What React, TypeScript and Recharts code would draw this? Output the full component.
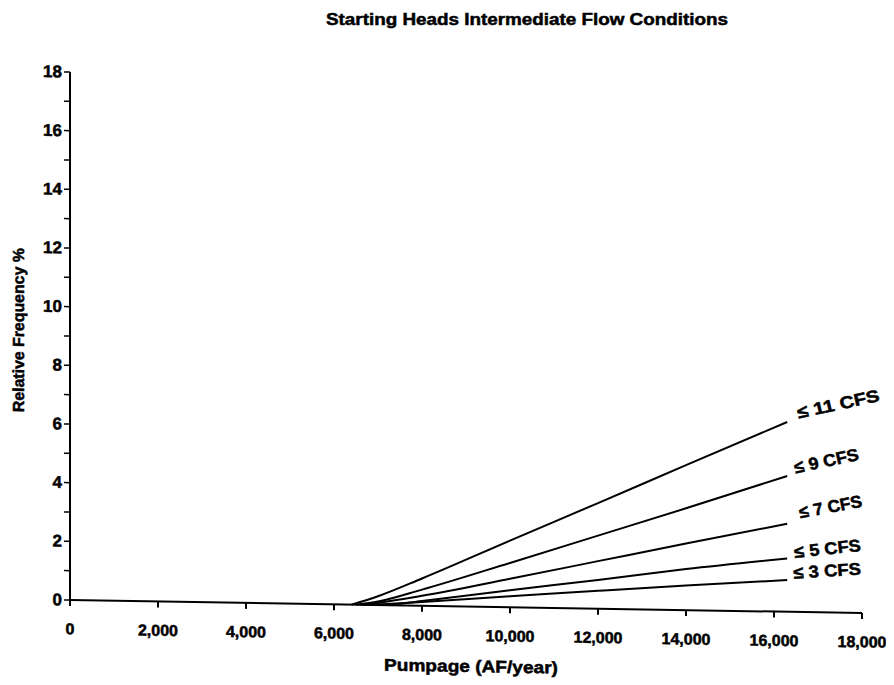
import { LineChart, Line, XAxis, YAxis, Label } from "recharts";

// Relative frequency (%) vs. pumpage (AF/year), one series per flow cap
const cfs11 = [
  { x: 6400, y: 0 },
  { x: 7000, y: 0.3 },
  { x: 8000, y: 0.93 },
  { x: 10000, y: 2.27 },
  { x: 12000, y: 3.6 },
  { x: 14000, y: 4.94 },
  { x: 16300, y: 6.47 },
];
const cfs9 = [
  { x: 6500, y: 0 },
  { x: 7000, y: 0.12 },
  { x: 8000, y: 0.55 },
  { x: 10000, y: 1.51 },
  { x: 12000, y: 2.49 },
  { x: 14000, y: 3.47 },
  { x: 16300, y: 4.63 },
];
const cfs7 = [
  { x: 6600, y: 0 },
  { x: 7000, y: 0.08 },
  { x: 8000, y: 0.34 },
  { x: 10000, y: 0.97 },
  { x: 12000, y: 1.62 },
  { x: 14000, y: 2.27 },
  { x: 16300, y: 3.0 },
];
const cfs5 = [
  { x: 6700, y: 0 },
  { x: 7500, y: 0.06 },
  { x: 8000, y: 0.16 },
  { x: 10000, y: 0.58 },
  { x: 12000, y: 0.98 },
  { x: 14000, y: 1.4 },
  { x: 16300, y: 1.82 },
];
const cfs3 = [
  { x: 6800, y: 0 },
  { x: 8000, y: 0.13 },
  { x: 10000, y: 0.37 },
  { x: 12000, y: 0.61 },
  { x: 14000, y: 0.84 },
  { x: 16300, y: 1.08 },
];

const xTicks = [0, 2000, 4000, 6000, 8000, 10000, 12000, 14000, 16000, 18000];
const yTicks = [0, 1, 2, 3, 4, 5, 6, 7, 8, 9, 10, 11, 12, 13, 14, 15, 16, 17, 18];

// label text, angle, offset from the last point, stretched width
const seriesLabels = [
  { data: cfs11, text: "≤ 11 CFS", angle: -13, dx: 10, dy: -9, len: 84 },
  { data: cfs9, text: "≤ 9 CFS", angle: -13, dx: 7, dy: -8, len: 66 },
  { data: cfs7, text: "≤ 7 CFS", angle: -11.5, dx: 12, dy: -11, len: 64 },
  { data: cfs5, text: "≤ 5 CFS", angle: -7, dx: 7, dy: -6, len: 67 },
  { data: cfs3, text: "≤ 3 CFS", angle: -4.5, dx: 6, dy: -7, len: 68 },
];

const FONT = '"Liberation Sans", Arial, Helvetica, sans-serif';

// heavy print look: bold glyphs with a thin outline
const heavy = {
  fontFamily: FONT,
  fontWeight: 700,
  fill: "#000",
  stroke: "#000",
  strokeWidth: 0.5,
};

const fmt = (v: number) => v.toLocaleString("en-US");

const XTick = ({ x, y, payload }: any) => (
  <text x={x} y={y} dy="0.71em" textAnchor="middle" fontSize={16} {...heavy}>
    {fmt(payload.value)}
  </text>
);

const YTick = ({ x, y, payload }: any) =>
  payload.value % 2 === 0 ? (
    <text
      x={x}
      y={y}
      textAnchor="end"
      dominantBaseline="central"
      fontSize={17}
      {...heavy}
    >
      {payload.value}
    </text>
  ) : (
    <g />
  );

const endLabel =
  (cfg: (typeof seriesLabels)[number]) =>
  ({ x, y, index }: any) => {
    if (index !== cfg.data.length - 1) return <g />;
    const tx = x + cfg.dx;
    const ty = y + cfg.dy;
    return (
      <text
        x={tx}
        y={ty}
        transform={`rotate(${cfg.angle}, ${tx}, ${ty})`}
        dominantBaseline="central"
        textLength={cfg.len}
        lengthAdjust="spacingAndGlyphs"
        fontSize={17}
        {...heavy}
      >
        {cfg.text}
      </text>
    );
  };

export default function App() {
  return (
    <div style={{ position: "relative", width: 886, height: 677 }}>
      <svg
        width={886}
        height={40}
        style={{ position: "absolute", left: 0, top: 0 }}
      >
        <text
          x={519}
          y={11}
          textAnchor="middle"
          dominantBaseline="central"
          textLength={402}
          lengthAdjust="spacingAndGlyphs"
          fontSize={16}
          {...heavy}
        >
          Starting Heads Intermediate Flow Conditions
        </text>
      </svg>
      {/* the whole plot leans a little, as on the printed sheet */}
      <div style={{ transform: "skewY(0.94deg)", transformOrigin: "62px 592px" }}>
        <LineChart
          width={886}
          height={677}
          margin={{ top: 64, right: 32, bottom: 25, left: 22 }}
        >
          <XAxis
            dataKey="x"
            type="number"
            domain={[0, 18000]}
            ticks={xTicks}
            tick={<XTick />}
            tickSize={6}
            tickMargin={17}
            height={60}
            axisLine={{ stroke: "#000", strokeWidth: 2 }}
            tickLine={{ stroke: "#000", strokeWidth: 2 }}
            allowDuplicatedCategory={false}
          >
            <Label
              content={({ viewBox }: any) => (
                <text
                  x={viewBox.x + viewBox.width / 2 + 5}
                  y={viewBox.y + 60}
                  textAnchor="middle"
                  dominantBaseline="central"
                  textLength={174}
                  lengthAdjust="spacingAndGlyphs"
                  fontSize={17}
                  {...heavy}
                >
                  Pumpage (AF/year)
                </text>
              )}
            />
          </XAxis>
          <YAxis
            type="number"
            domain={[0, 18]}
            ticks={yTicks}
            interval={0}
            tick={<YTick />}
            tickSize={6}
            tickMargin={2}
            width={40}
            axisLine={{ stroke: "#000", strokeWidth: 2 }}
            tickLine={{ stroke: "#000", strokeWidth: 1.5 }}
          >
            <Label
              content={() => (
                <text
                  x={11}
                  y={323}
                  transform="rotate(-90, 11, 323)"
                  textAnchor="middle"
                  dominantBaseline="central"
                  textLength={164}
                  lengthAdjust="spacingAndGlyphs"
                  fontSize={16}
                  {...heavy}
                >
                  Relative Frequency %
                </text>
              )}
            />
          </YAxis>
          {seriesLabels.map((s) => (
            <Line
              key={s.text}
              data={s.data}
              dataKey="y"
              type="monotone"
              stroke="#000"
              strokeWidth={2}
              dot={false}
              label={endLabel(s)}
              isAnimationActive={false}
            />
          ))}
        </LineChart>
      </div>
    </div>
  );
}
